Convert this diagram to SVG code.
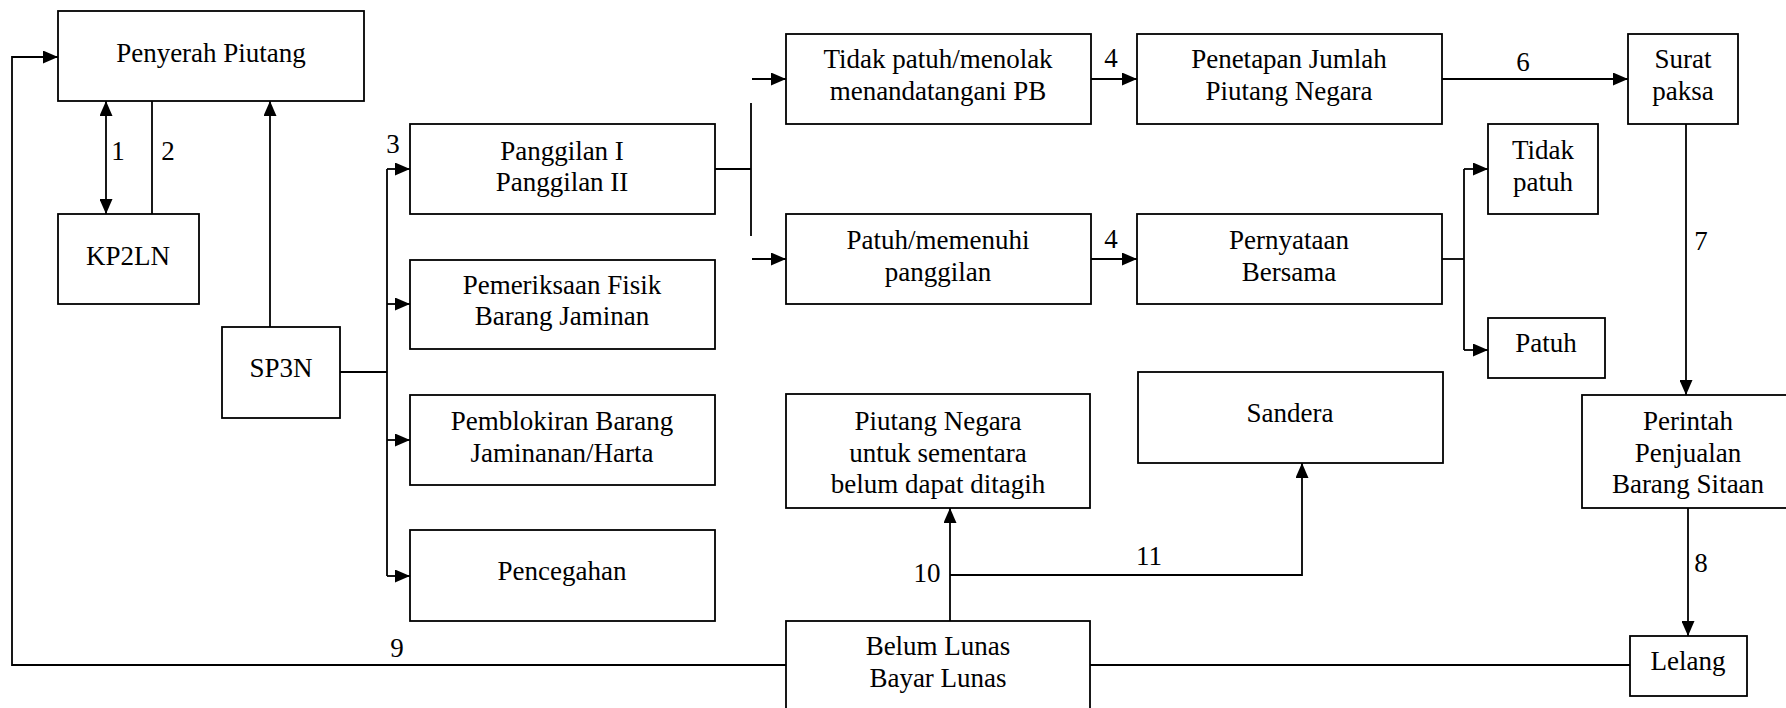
<svg xmlns="http://www.w3.org/2000/svg" width="1786" height="708" viewBox="0 0 1786 708">
<style>
.box{fill:#fff;stroke:#000;stroke-width:1.8}
.c{fill:none;stroke:#000;stroke-width:1.8}
.a{marker-end:url(#ah)}
</style>
<defs>
<marker id="ah" markerUnits="userSpaceOnUse" markerWidth="15" markerHeight="13" refX="15" refY="6.5" orient="auto-start-reverse"><path d="M0,0 L15,6.5 L0,13 z" fill="#000"/></marker>
</defs>
<rect width="1786" height="708" fill="#fff"/>
<g id="connectors">
<path class="c a" d="M786,665 H12 V57 H58"/>
<path class="c" d="M1090,665 H1630"/>
<path class="c a" style="marker-start:url(#ah)" d="M106,101 V214"/>
<path class="c" d="M152,101 V214"/>
<path class="c a" d="M270,327 V101"/>
<path class="c" d="M340,372 H387"/>
<path class="c" d="M387,169 V576"/>
<path class="c a" d="M387,169 H410"/>
<path class="c a" d="M387,304 H410"/>
<path class="c a" d="M387,440 H410"/>
<path class="c a" d="M387,576 H410"/>
<path class="c" d="M715,169 H751"/>
<path class="c" d="M751,103 V236"/>
<path class="c a" d="M752,79 H786"/>
<path class="c a" d="M752,259 H786"/>
<path class="c a" d="M1091,79 H1137"/>
<path class="c a" d="M1091,259 H1137"/>
<path class="c a" d="M1442,79 H1628"/>
<path class="c" d="M1442,259 H1464"/>
<path class="c" d="M1464,169 V350"/>
<path class="c a" d="M1464,169 H1488"/>
<path class="c a" d="M1464,350 H1488"/>
<path class="c a" d="M1686,124 V395"/>
<path class="c a" d="M1688,508 V636"/>
<path class="c a" d="M950,621 V508"/>
<path class="c a" d="M950,575 H1302 V463"/>
<text font-family="Liberation Serif, serif" font-size="27" text-anchor="middle" x="118" y="160">1</text>
<text font-family="Liberation Serif, serif" font-size="27" text-anchor="middle" x="168" y="160">2</text>
<text font-family="Liberation Serif, serif" font-size="27" text-anchor="middle" x="393" y="153">3</text>
<text font-family="Liberation Serif, serif" font-size="27" text-anchor="middle" x="1111" y="67">4</text>
<text font-family="Liberation Serif, serif" font-size="27" text-anchor="middle" x="1111" y="248">4</text>
<text font-family="Liberation Serif, serif" font-size="27" text-anchor="middle" x="1523" y="71">6</text>
<text font-family="Liberation Serif, serif" font-size="27" text-anchor="middle" x="1701" y="250">7</text>
<text font-family="Liberation Serif, serif" font-size="27" text-anchor="middle" x="1701" y="572">8</text>
<text font-family="Liberation Serif, serif" font-size="27" text-anchor="middle" x="397" y="657">9</text>
<text font-family="Liberation Serif, serif" font-size="27" text-anchor="middle" x="927" y="582">10</text>
<text font-family="Liberation Serif, serif" font-size="27" text-anchor="middle" x="1149" y="565">11</text>
</g>
<g id="penyerah"><rect class="box" x="58" y="11" width="306" height="90"/><text font-family="Liberation Serif, serif" font-size="27" text-anchor="middle" x="211" y="62">Penyerah Piutang</text></g>
<g id="kp2ln"><rect class="box" x="58" y="214" width="141" height="90"/><text font-family="Liberation Serif, serif" font-size="27" text-anchor="middle" x="128" y="265">KP2LN</text></g>
<g id="sp3n"><rect class="box" x="222" y="327" width="118" height="91"/><text font-family="Liberation Serif, serif" font-size="27" text-anchor="middle" x="281" y="377">SP3N</text></g>
<g id="panggilan"><rect class="box" x="410" y="124" width="305" height="90"/><text font-family="Liberation Serif, serif" font-size="27" text-anchor="middle" x="562" y="160">Panggilan I</text><text font-family="Liberation Serif, serif" font-size="27" text-anchor="middle" x="562" y="191">Panggilan II</text></g>
<g id="pemeriksaan"><rect class="box" x="410" y="260" width="305" height="89"/><text font-family="Liberation Serif, serif" font-size="27" text-anchor="middle" x="562" y="294">Pemeriksaan Fisik</text><text font-family="Liberation Serif, serif" font-size="27" text-anchor="middle" x="562" y="325">Barang Jaminan</text></g>
<g id="pemblokiran"><rect class="box" x="410" y="395" width="305" height="90"/><text font-family="Liberation Serif, serif" font-size="27" text-anchor="middle" x="562" y="430">Pemblokiran Barang</text><text font-family="Liberation Serif, serif" font-size="27" text-anchor="middle" x="562" y="462">Jaminanan/Harta</text></g>
<g id="pencegahan"><rect class="box" x="410" y="530" width="305" height="91"/><text font-family="Liberation Serif, serif" font-size="27" text-anchor="middle" x="562" y="580">Pencegahan</text></g>
<g id="tidakpatuh-menolak"><rect class="box" x="786" y="34" width="305" height="90"/><text font-family="Liberation Serif, serif" font-size="27" text-anchor="middle" x="938" y="68">Tidak patuh/menolak</text><text font-family="Liberation Serif, serif" font-size="27" text-anchor="middle" x="938" y="100">menandatangani PB</text></g>
<g id="patuh-memenuhi"><rect class="box" x="786" y="214" width="305" height="90"/><text font-family="Liberation Serif, serif" font-size="27" text-anchor="middle" x="938" y="249">Patuh/memenuhi</text><text font-family="Liberation Serif, serif" font-size="27" text-anchor="middle" x="938" y="281">panggilan</text></g>
<g id="penetapan"><rect class="box" x="1137" y="34" width="305" height="90"/><text font-family="Liberation Serif, serif" font-size="27" text-anchor="middle" x="1289" y="68">Penetapan Jumlah</text><text font-family="Liberation Serif, serif" font-size="27" text-anchor="middle" x="1289" y="100">Piutang Negara</text></g>
<g id="pernyataan"><rect class="box" x="1137" y="214" width="305" height="90"/><text font-family="Liberation Serif, serif" font-size="27" text-anchor="middle" x="1289" y="249">Pernyataan</text><text font-family="Liberation Serif, serif" font-size="27" text-anchor="middle" x="1289" y="281">Bersama</text></g>
<g id="surat-paksa"><rect class="box" x="1628" y="34" width="110" height="90"/><text font-family="Liberation Serif, serif" font-size="27" text-anchor="middle" x="1683" y="68">Surat</text><text font-family="Liberation Serif, serif" font-size="27" text-anchor="middle" x="1683" y="100">paksa</text></g>
<g id="tidak-patuh"><rect class="box" x="1488" y="124" width="110" height="90"/><text font-family="Liberation Serif, serif" font-size="27" text-anchor="middle" x="1543" y="159">Tidak</text><text font-family="Liberation Serif, serif" font-size="27" text-anchor="middle" x="1543" y="191">patuh</text></g>
<g id="patuh"><rect class="box" x="1488" y="318" width="117" height="60"/><text font-family="Liberation Serif, serif" font-size="27" text-anchor="middle" x="1546" y="352">Patuh</text></g>
<g id="piutang-negara"><rect class="box" x="786" y="394" width="304" height="114"/><text font-family="Liberation Serif, serif" font-size="27" text-anchor="middle" x="938" y="430">Piutang Negara</text><text font-family="Liberation Serif, serif" font-size="27" text-anchor="middle" x="938" y="462">untuk sementara</text><text font-family="Liberation Serif, serif" font-size="27" text-anchor="middle" x="938" y="493">belum dapat ditagih</text></g>
<g id="sandera"><rect class="box" x="1138" y="372" width="305" height="91"/><text font-family="Liberation Serif, serif" font-size="27" text-anchor="middle" x="1290" y="422">Sandera</text></g>
<g id="perintah"><rect class="box" x="1582" y="395" width="210" height="113"/><text font-family="Liberation Serif, serif" font-size="27" text-anchor="middle" x="1688" y="430">Perintah</text><text font-family="Liberation Serif, serif" font-size="27" text-anchor="middle" x="1688" y="462">Penjualan</text><text font-family="Liberation Serif, serif" font-size="27" text-anchor="middle" x="1688" y="493">Barang Sitaan</text></g>
<g id="lelang"><rect class="box" x="1630" y="636" width="117" height="60"/><text font-family="Liberation Serif, serif" font-size="27" text-anchor="middle" x="1688" y="670">Lelang</text></g>
<g id="belum-lunas"><rect class="box" x="786" y="621" width="304" height="92"/><text font-family="Liberation Serif, serif" font-size="27" text-anchor="middle" x="938" y="655">Belum Lunas</text><text font-family="Liberation Serif, serif" font-size="27" text-anchor="middle" x="938" y="687">Bayar Lunas</text></g>
</svg>
